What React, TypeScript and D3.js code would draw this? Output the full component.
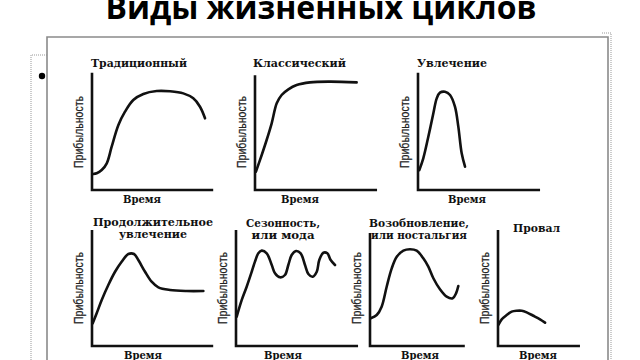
import React from "react";
import * as d3 from "d3";

// ---------- text ----------
const pageTitle = "Виды жизненных циклов";
const yAxisLabel = "Прибыльность";
const xAxisLabel = "Время";

const titleTraditional = ["Традиционный"];
const titleClassic = ["Классический"];
const titleFad = ["Увлечение"];
const titleExtendedFad = ["Продолжительное", "увлечение"];
const titleSeasonal = ["Сезонность,", "или  мода"];
const titleRevival = ["Возобновление,", "или ностальгия"];
const titleFailure = ["Провал"];

// ---------- data: [time, profit] in 0..100 units ----------
const traditional: [number, number][] = [
  [1.1, 13.8], [3.9, 14.4], [8.1, 17.2], [12.3, 23], [16.4, 37.3], [22, 56],
  [27.5, 67.5], [34.4, 77.6], [42.8, 82.8], [53.9, 85.3], [65, 85.1],
  [76.1, 83.3], [84.4, 79], [90, 71.8], [94.2, 61.8],
];
const classic: [number, number][] = [
  [0.8, 15.8], [5.6, 30.2], [9.7, 43.1], [13.9, 57.5], [18.1, 74.7],
  [22.2, 81.9], [27.8, 86.8], [34.7, 90.5], [45.8, 92.8], [62.5, 93.4], [84.7, 92.8],
];
const fad: [number, number][] = [
  [1.1, 17.2], [4.4, 27.3], [8.6, 45.9], [12.8, 66.1], [15.6, 79], [18.3, 83.9],
  [22.5, 84.7], [26.7, 81.9], [30.8, 71.8], [33.6, 54.6], [36.4, 31.6], [39.2, 20.1],
];
const extendedFad: [number, number][] = [
  [0.6, 19.6], [3.9, 28.2], [8.1, 39.7], [13.6, 52.6], [19.2, 64], [24.7, 72.7],
  [30.3, 79.3], [35, 79.3], [38.6, 74.1], [44.2, 64], [49.7, 55.4], [55.3, 50.6],
  [65, 48.3], [78.9, 47.4], [92.8, 47.4],
];
const seasonal: [number, number][] = [
  [0.6, 25.3], [4.8, 39.7], [8.9, 51.1], [13.1, 64], [15.8, 72.7], [18.6, 79.9],
  [21.4, 82.2], [25.6, 79.9], [29.8, 69.8], [32.5, 62.7], [36.7, 59.2], [40.8, 61.2],
  [43.6, 69.8], [46.4, 78.4], [50, 81.9], [53.9, 79.9], [57.5, 69.8], [60.3, 62.1],
  [63.9, 59.7], [67.3, 64], [69.4, 74.1], [72.8, 80.4], [76.1, 79.9], [78.9, 74.1],
  [82.5, 69.8],
];
const revival: [number, number][] = [
  [0.6, 23.9], [5.6, 26.7], [9.7, 33.9], [13.9, 51.1], [18.1, 66.9], [22.3, 76.9],
  [27.8, 82.2], [33.3, 83.4], [38.9, 82.2], [44.4, 75.6], [48.6, 68.4], [52.8, 58.4],
  [58.3, 48.9], [63.9, 42.5], [68.9, 41.1], [71.7, 45.4], [73.6, 51.7],
];
const failure: [number, number][] = [
  [0.3, 18.1], [3.1, 23], [7.2, 26.7], [11.4, 29.6], [15.6, 30.4], [19.8, 30.4],
  [23.9, 29], [29.4, 26.1], [35, 23], [39.2, 20.1],
];

// ---------- layout ----------
type Panel = {
  title: string[];
  titleWidths: number[];
  data: [number, number][];
  x0: number;
  yBase: number;
  xEnd: number;
  yEnd: number;
  titleCx: number;
  titleY: number;
  timeCx: number;
};

const panels: Panel[] = [
  { title: titleTraditional, titleWidths: [96], data: traditional, x0: 92, yBase: 190, xEnd: 101, yEnd: 101, titleCx: 139, titleY: 67, timeCx: 142 },
  { title: titleClassic, titleWidths: [93], data: classic, x0: 255, yBase: 190, xEnd: 101.7, yEnd: 99, titleCx: 299.5, titleY: 67, timeCx: 300 },
  { title: titleFad, titleWidths: [70], data: fad, x0: 418, yBase: 190, xEnd: 101.7, yEnd: 101, titleCx: 452, titleY: 67, timeCx: 467 },
  { title: titleExtendedFad, titleWidths: [120, 68], data: extendedFad, x0: 92, yBase: 346, xEnd: 101, yEnd: 100, titleCx: 153, titleY: 226, timeCx: 143 },
  { title: titleSeasonal, titleWidths: [74, 63], data: seasonal, x0: 236, yBase: 346, xEnd: 101.7, yEnd: 100, titleCx: 283, titleY: 227, timeCx: 283 },
  { title: titleRevival, titleWidths: [100, 96], data: revival, x0: 370, yBase: 346, xEnd: 79, yEnd: 97.5, titleCx: 419, titleY: 227, timeCx: 420 },
  { title: titleFailure, titleWidths: [47], data: failure, x0: 498, yBase: 346, xEnd: 68.3, yEnd: 100, titleCx: 536.5, titleY: 232, timeCx: 538 },
];

const INK = "#111";
const serif = "'DejaVu Serif', 'Liberation Serif', serif";

function PanelChart({ p }: { p: Panel }) {
  const x = d3.scaleLinear().domain([0, 100]).range([p.x0, p.x0 + 120]);
  const y = d3.scaleLinear().domain([0, 100]).range([p.yBase, p.yBase - 116]);
  const line = d3
    .line<[number, number]>()
    .x((d) => x(d[0]))
    .y((d) => y(d[1]))
    .curve(d3.curveCatmullRom.alpha(0.5));
  const axisPath = `M${x(0)},${y(p.yEnd)}L${x(0)},${y(0)}L${x(p.xEnd)},${y(0)}`;
  const labelCy = p.yBase - 58;
  const labelX = p.x0 - 9;
  return (
    <g>
      {p.title.map((t, i) => (
        <text
          key={i}
          x={p.titleCx}
          y={p.titleY + i * 12}
          textAnchor="middle"
          fontFamily={serif}
          fontWeight="bold"
          fontSize={11}
          fill={INK}
          textLength={p.titleWidths[i]}
          lengthAdjust="spacingAndGlyphs"
        >
          {t}
        </text>
      ))}
      <path d={axisPath} fill="none" stroke={INK} strokeWidth={2.6} strokeLinejoin="miter" />
      <path d={line(p.data) || ""} fill="none" stroke={INK} strokeWidth={2.6} strokeLinecap="round" strokeLinejoin="round" />
      <text
        transform={`translate(${labelX},${labelCy}) rotate(-90)`}
        textAnchor="middle"
        fontFamily="'Liberation Sans Narrow', 'Liberation Sans', Arial, sans-serif"
        fontSize={13}
        fill="#222"
        stroke="#222"
        strokeWidth={0.25}
        textLength={72}
        lengthAdjust="spacingAndGlyphs"
      >
        {yAxisLabel}
      </text>
      <text
        x={p.timeCx}
        y={p.yBase + 13}
        textAnchor="middle"
        fontFamily={serif}
        fontWeight="bold"
        fontSize={11}
        fill={INK}
        textLength={38}
        lengthAdjust="spacingAndGlyphs"
      >
        {xAxisLabel}
      </text>
    </g>
  );
}

export default function App() {
  return (
    <svg
      width={640}
      height={360}
      viewBox="0 0 640 360"
      style={{ position: "fixed", left: 0, top: 0, background: "#fff" }}
    >
      <rect x={0} y={0} width={640} height={360} fill="#fff" />
      <text
        x={321}
        y={19}
        textAnchor="middle"
        fontFamily="'Open Sans', 'Liberation Sans', sans-serif"
        fontWeight="bold"
        fontSize={33}
        fill="#000"
        textLength={431}
        lengthAdjust="spacingAndGlyphs"
      >
        {pageTitle}
      </text>
      {/* dotted placeholder outline */}
      <path d="M31,360L31,55L47,55" fill="none" stroke="#999" strokeWidth={1} strokeDasharray="1,1" />
      <path d="M602,33L611,33L611,360" fill="none" stroke="#999" strokeWidth={1} strokeDasharray="1,1" />
      {/* image frame */}
      <path d="M47,362L47,37L608,37L608,362" fill="none" stroke="#8a8a8a" strokeWidth={1.6} />
      <circle cx={42} cy={76} r={3.2} fill="#000" />
      {panels.map((p, i) => (
        <PanelChart key={i} p={p} />
      ))}
    </svg>
  );
}
